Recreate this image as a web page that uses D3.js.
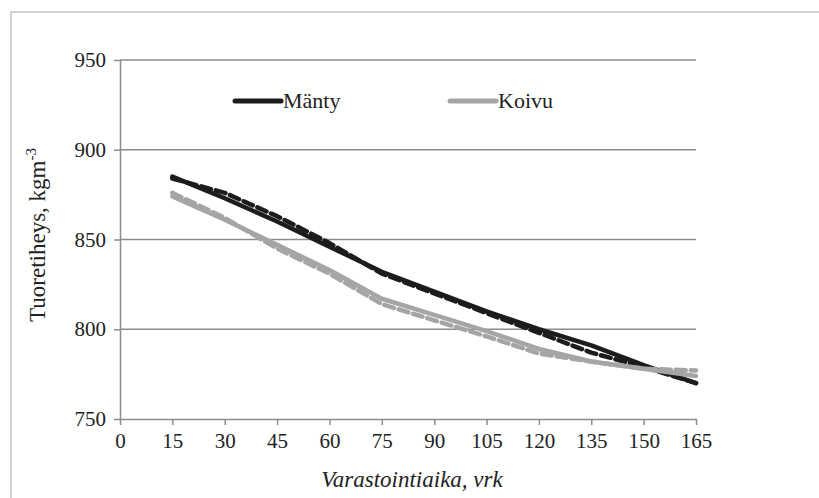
<!DOCTYPE html>
<html>
<head>
<meta charset="utf-8">
<script src="https://cdn.jsdelivr.net/npm/d3@7"></script>
<style>
  body { margin: 0; font-family: "Times New Roman"; }
  text, tspan { font-family: "Times New Roman" !important; }
</style>
</head>
<body>
<svg id="chart" width="819" height="498"></svg>
<script>
// Storage time (days)
const days = [15, 30, 45, 60, 75, 90, 105, 120, 135, 150, 165];

// Fresh density, kg/m3: fitted (solid) and measured (dashed) curves
const manty      = [885, 873, 860, 846, 832, 821, 810, 800, 791, 780, 770];
const mantyDash  = [884, 876, 863, 848, 831, 820, 809, 798, 787, 779, 770];
const koivu      = [874, 861, 847, 833, 817, 808, 799, 789, 782, 778, 774];
const koivuDash  = [876, 862, 845, 831, 814, 805, 796, 786.5, 782, 778, 777];

const xTicks = [0, 15, 30, 45, 60, 75, 90, 105, 120, 135, 150, 165];
const yTicks = [750, 800, 850, 900, 950];

const svg = d3.select("#chart");

function serif(sel, size) {
  return sel.style("font-family", '"Times New Roman"').attr("font-size", size);
}

// outer chart frame
svg.append("rect")
  .attr("x", 11).attr("y", 12)
  .attr("width", 830).attr("height", 510)
  .attr("fill", "none").attr("stroke", "#c4c4c4").attr("stroke-width", 1.5);

const plot = { left: 120, right: 696, top: 60, bottom: 419 };

const x = d3.scaleLinear().domain([0, 165]).range([plot.left, plot.right]);
const y = d3.scaleLinear().domain([750, 950]).range([plot.bottom, plot.top]);

// horizontal gridlines
svg.append("g").selectAll("line")
  .data(yTicks.filter(v => v > 750))
  .join("line")
  .attr("x1", plot.left).attr("x2", plot.right)
  .attr("y1", d => y(d)).attr("y2", d => y(d))
  .attr("stroke", "#8c8c8c").attr("stroke-width", 1.5);

function styleAxis(g) {
  g.attr("font-family", null).attr("font-size", null);
  g.select(".domain").attr("stroke", "#8c8c8c").attr("stroke-width", 1.5);
  g.selectAll(".tick line").attr("stroke", "#8c8c8c").attr("stroke-width", 1.5);
  g.selectAll(".tick text").call(serif, 21).attr("fill", "#222");
}

// y axis
svg.append("g")
  .attr("transform", `translate(${plot.left},0)`)
  .call(d3.axisLeft(y).tickValues(yTicks).tickSize(6).tickPadding(8).tickSizeOuter(0))
  .call(styleAxis);

// x axis
svg.append("g")
  .attr("transform", `translate(0,${plot.bottom})`)
  .call(d3.axisBottom(x).tickValues(xTicks).tickSize(6).tickPadding(8).tickSizeOuter(0))
  .call(styleAxis);

// series lines
const line = d3.line()
  .x((d, i) => x(days[i]))
  .y(d => y(d));

const series = [
  { values: manty,     color: "#1c1c1c", dash: null,   width: 4.5 },
  { values: mantyDash, color: "#1c1c1c", dash: "10,5", width: 4.5 },
  { values: koivu,     color: "#a5a5a5", dash: null,   width: 4.5 },
  { values: koivuDash, color: "#a5a5a5", dash: "10,5", width: 4.5 }
];

svg.append("g").selectAll("path")
  .data(series)
  .join("path")
  .attr("d", d => line(d.values))
  .attr("fill", "none")
  .attr("stroke", d => d.color)
  .attr("stroke-width", d => d.width)
  .attr("stroke-linecap", "round")
  .attr("stroke-linejoin", "round")
  .attr("stroke-dasharray", d => d.dash);

// legend
const legendItems = [
  { name: "Mänty", color: "#1c1c1c", x0: 235 },
  { name: "Koivu", color: "#a5a5a5", x0: 450 }
];
const lg = svg.append("g").selectAll("g").data(legendItems).join("g");
lg.append("line")
  .attr("x1", d => d.x0).attr("x2", d => d.x0 + 46)
  .attr("y1", 101).attr("y2", 101)
  .attr("stroke", d => d.color).attr("stroke-width", 5)
  .attr("stroke-linecap", "round");
lg.append("text")
  .attr("x", d => d.x0 + 48).attr("y", 108)
  .call(serif, 22)
  .attr("fill", "#222")
  .text(d => d.name);

// axis titles
const yTitle = svg.append("text")
  .attr("transform", "translate(45,235) rotate(-90)")
  .attr("text-anchor", "middle")
  .call(serif, 23)
  .attr("fill", "#222");
yTitle.append("tspan").text("Tuoretiheys, kgm");
yTitle.append("tspan").attr("dy", -9).attr("font-size", 15).text("-3");

svg.append("text")
  .attr("x", 412).attr("y", 487)
  .attr("text-anchor", "middle")
  .call(serif, 23)
  .attr("font-style", "italic")
  .attr("fill", "#222")
  .text("Varastointiaika, vrk");
</script>
</body>
</html>
